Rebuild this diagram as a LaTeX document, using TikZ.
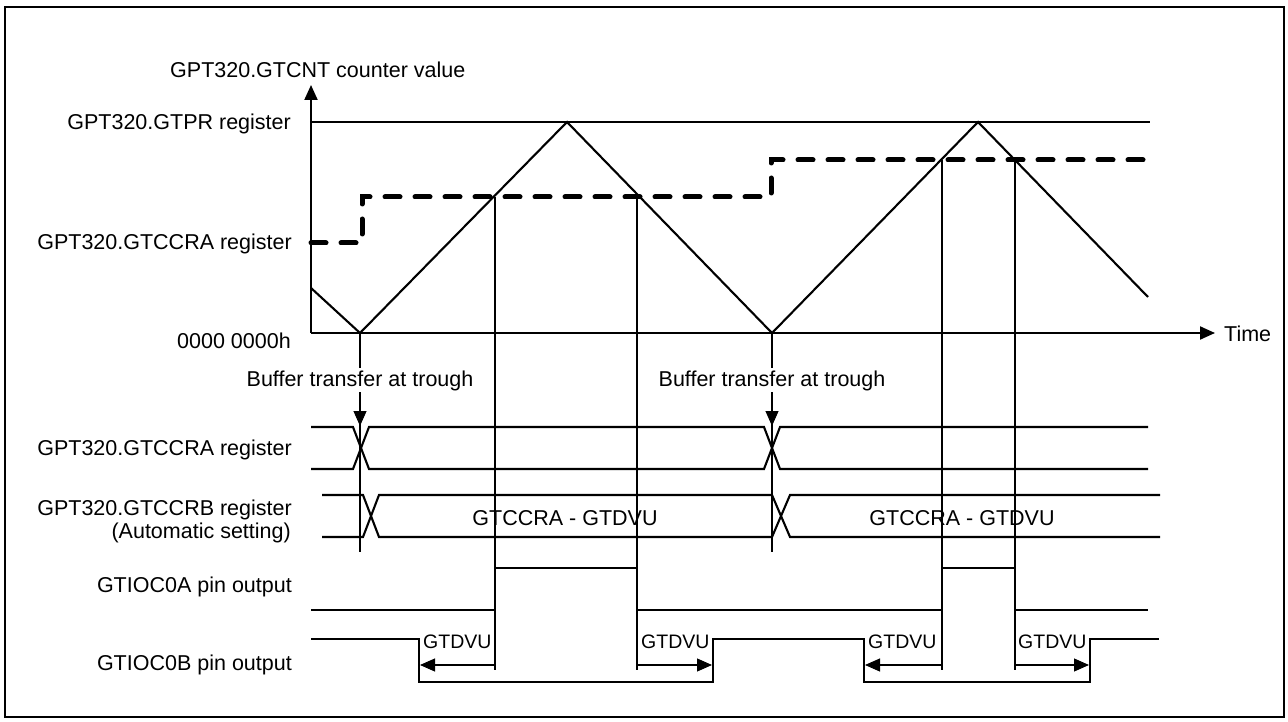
\documentclass[tikz,border=0pt]{standalone}
\usepackage{fontspec}
\setmainfont{Liberation Sans}
\usetikzlibrary{arrows.meta}
\begin{document}
\begin{tikzpicture}[x=1pt,y=-1pt,
  frameln/.style={line width=2.8pt},
  thickln/.style={line width=2.1pt},
  thinln/.style={line width=1.05pt},
  dashln/.style={line width=5pt, line cap=round, dash pattern=on 15pt off 15pt},
  lbl/.style={inner sep=0pt, font=\fontsize{21.5}{24}\selectfont},
  rlbl/.style={lbl, anchor=base east},
  smalllbl/.style={inner sep=0pt, anchor=base west, font=\fontsize{19.5}{22}\selectfont},
  tipend/.style={-{Triangle[length=15pt,width=13pt]}},
  buflbl/.style={lbl, anchor=base, fill=white, inner sep=2pt}]
\useasboundingbox (0,0) rectangle (1288,722);
\draw[frameln] (5,7) rectangle (1284,717);

% axes
\coordinate (O) at (311,333);
\coordinate (Ytop) at (311,85);
\coordinate (Xend) at (1215,333);
\draw[thickln, tipend] (O) -- (Ytop);
\draw[thickln, tipend] (O) -- (Xend);
\node[lbl, anchor=base west] (ylbl) at (170,78) {GPT320.GTCNT counter value};
\node[lbl, anchor=base west] (timelbl) at (1224,341) {Time};

% left labels
\node[rlbl] (gtpr) at (291,130) {GPT320.GTPR register};
\node[rlbl] (gtccra1) at (292,250) {GPT320.GTCCRA register};
\node[rlbl] (zero) at (291,348) {0000 0000h};
\node[rlbl] (gtccra2) at (292,455) {GPT320.GTCCRA register};
\node[rlbl] (gtccrb) at (292,515) {GPT320.GTCCRB register};
\node[rlbl] (auto) at (291,538) {(Automatic setting)};
\node[rlbl] (ioa) at (292,592) {GTIOC0A pin output};
\node[rlbl] (iob) at (292,670) {GTIOC0B pin output};

% GTPR level
\draw[thinln] (311,122) -- (1150,122);

% triangle wave
\coordinate (T1) at (360,333);
\coordinate (P1) at (567,122);
\coordinate (T2) at (772,333);
\coordinate (P2) at (978,122);
\draw[thickln, line join=miter] (311,288) -- (T1) -- (P1) -- (T2) -- (P2) -- (1148,297);

% compare (dashed) level
\draw[dashln] (311,243) -- (362,243) -- (362,197) -- (771,197) -- (771,160) -- (1148,160);

% thin vertical guide lines
\draw[thinln] (495,197) -- (495,670);
\draw[thinln] (637,197) -- (637,670);
\draw[thinln] (942,160) -- (942,670);
\draw[thinln] (1015,160) -- (1015,670);
\draw[thinln] (T1) -- (360,552);
\draw[thinln] (T2) -- (772,552);

% buffer transfer labels and arrows
\node[buflbl] (buf1) at (360,386) {Buffer transfer at trough};
\node[buflbl] (buf2) at (772,386) {Buffer transfer at trough};
\draw[thinln, tipend] (buf1.south) ++(0,3) -- (360,426);
\draw[thinln, tipend] (buf2.south) ++(0,3) -- (772,426);

% GTCCRA bus
\draw[thickln] (311,427) -- (353,427) -- (369,469) -- (764,469) -- (780,427) -- (1148,427);
\draw[thickln] (311,469) -- (353,469) -- (369,427) -- (764,427) -- (780,469) -- (1148,469);

% GTCCRB bus
\draw[thickln] (322,495) -- (363,495) -- (379,537) -- (772,537) -- (790,495) -- (1160,495);
\draw[thickln] (322,537) -- (363,537) -- (379,495) -- (772,495) -- (790,537) -- (1160,537);
\node[lbl, anchor=base] (bus1) at (565,525) {GTCCRA - GTDVU};
\node[lbl, anchor=base] (bus2) at (962,525) {GTCCRA - GTDVU};

% GTIOC0A
\draw[thickln] (311,610) -- (495,610) -- (495,568) -- (637,568) -- (637,610) -- (942,610) -- (942,568) -- (1015,568) -- (1015,610) -- (1148,610);

% GTIOC0B
\draw[thickln] (311,639) -- (419,639) -- (419,682) -- (713,682) -- (713,639) -- (864,639) -- (864,682) -- (1090,682) -- (1090,639) -- (1159,639);

% GTDVU dead time arrows
\coordinate (d1a) at (495,665); \coordinate (d1b) at (420,665);
\coordinate (d2a) at (637,665); \coordinate (d2b) at (712,665);
\coordinate (d3a) at (942,665); \coordinate (d3b) at (865,665);
\coordinate (d4a) at (1015,665); \coordinate (d4b) at (1089,665);
\draw[thinln, tipend] (d1a) -- (d1b);
\draw[thinln, tipend] (d2a) -- (d2b);
\draw[thinln, tipend] (d3a) -- (d3b);
\draw[thinln, tipend] (d4a) -- (d4b);
\node[smalllbl] (g1) at (423,648) {GTDVU};
\node[smalllbl] (g2) at (641,648) {GTDVU};
\node[smalllbl] (g3) at (868,648) {GTDVU};
\node[smalllbl] (g4) at (1018,648) {GTDVU};
\end{tikzpicture}
\end{document}
